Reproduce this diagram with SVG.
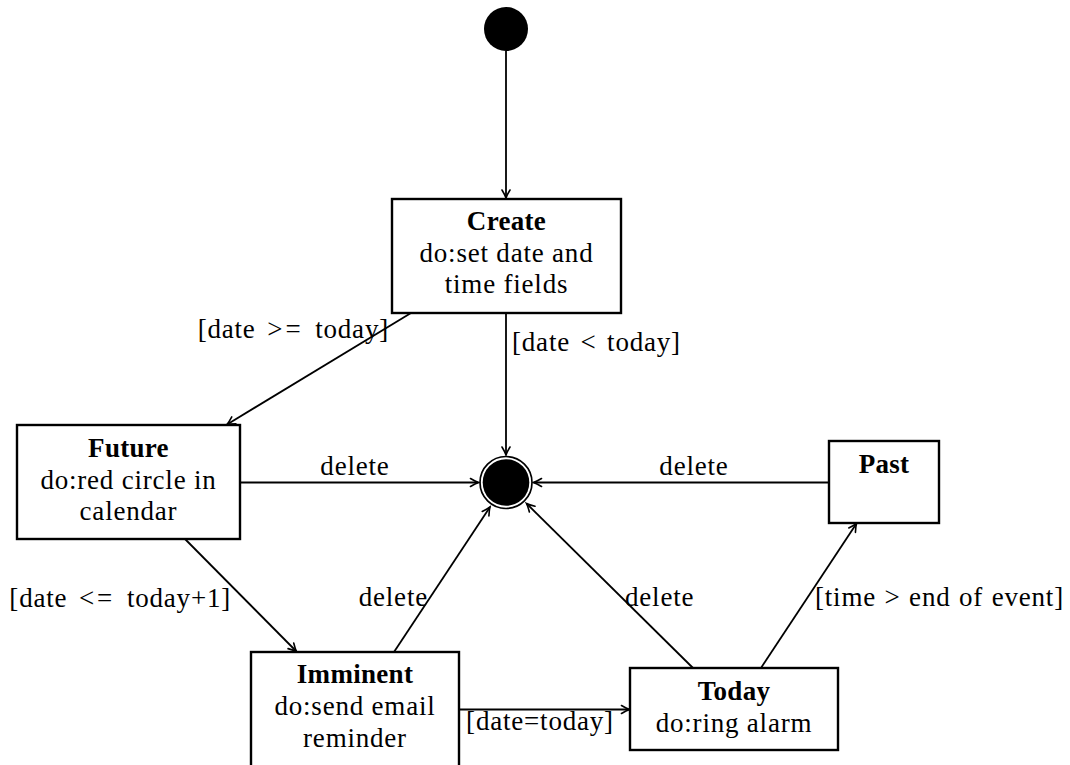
<svg xmlns="http://www.w3.org/2000/svg" width="1070" height="765" viewBox="0 0 1070 765">
<defs>
<style>
.box{fill:#fff;stroke:#000;stroke-width:2.4}
.t{font-family:'Liberation Serif','Times New Roman',serif;font-size:27px;fill:#000;letter-spacing:0.8px}
.b{font-weight:bold;letter-spacing:0.3px}
.m{text-anchor:middle}
.e{text-anchor:end}
.op{letter-spacing:3px}
.edge{stroke:#000;stroke-width:1.8;fill:none;marker-end:url(#arr)}
</style>
<marker id="arr" viewBox="-10 -6 12 12" refX="0" refY="0" markerWidth="12" markerHeight="12" markerUnits="userSpaceOnUse" orient="auto">
<path d="M-8,-4 Q-3,-1 0,0 Q-3,1 -8,4" fill="none" stroke="#000" stroke-width="1.6" stroke-linecap="round"/>
</marker>
</defs>
<rect width="1070" height="765" fill="#fff"/>

<g id="connectors">
<line class="edge" x1="506" y1="51" x2="506" y2="198"/>
<line class="edge" x1="506" y1="313" x2="506" y2="455"/>
<line class="edge" x1="411" y1="313" x2="227" y2="424.5"/>
<line class="edge" x1="240" y1="482.5" x2="478.5" y2="482.5"/>
<line class="edge" x1="829" y1="482.5" x2="533.5" y2="482.5"/>
<line class="edge" x1="185" y1="539" x2="296.5" y2="651.5"/>
<line class="edge" x1="394" y1="652" x2="490" y2="507"/>
<line class="edge" x1="693" y1="668" x2="526.5" y2="503.5"/>
<line class="edge" x1="761" y1="668" x2="856.5" y2="523.5"/>
<line class="edge" x1="459" y1="709.5" x2="629.5" y2="709.5"/>
<text class="t e" x="389" y="338" word-spacing="4">[date <tspan class="op">&gt;=</tspan> today]</text>
<text class="t" x="512" y="351" word-spacing="3">[date &lt; today]</text>
<text class="t m" x="355" y="475">delete</text>
<text class="t m" x="694" y="475">delete</text>
<text class="t e" x="231" y="607" word-spacing="4">[date <tspan class="op">&lt;=</tspan> today+1]</text>
<text class="t e" x="428" y="606">delete</text>
<text class="t" x="625" y="606">delete</text>
<text class="t" x="815" y="606" word-spacing="1">[time &gt; end of event]</text>
<text class="t m" x="540" y="730" letter-spacing="1.5">[date=today]</text>
</g>

<g id="initial">
<circle cx="506" cy="29" r="22" fill="#000"/>
</g>

<g id="final">
<circle cx="506" cy="482.5" r="26" fill="none" stroke="#000" stroke-width="1.7"/>
<circle cx="506" cy="482.5" r="23.3" fill="#000"/>
</g>

<g id="create">
<rect class="box" x="392" y="199" width="229" height="114"/>
<text class="t m b" x="506.5" y="230">Create</text>
<text class="t m" x="506.5" y="262">do:set date and</text>
<text class="t m" x="506.5" y="293">time fields</text>
</g>

<g id="future">
<rect class="box" x="17" y="425" width="223" height="114"/>
<text class="t m b" x="128.5" y="457">Future</text>
<text class="t m" x="128.5" y="489">do:red circle in</text>
<text class="t m" x="128.5" y="520">calendar</text>
</g>

<g id="past">
<rect class="box" x="829" y="441" width="110" height="82"/>
<text class="t m b" x="884" y="473">Past</text>
</g>

<g id="imminent">
<rect class="box" x="251" y="652" width="208" height="125"/>
<text class="t m b" x="355" y="683">Imminent</text>
<text class="t m" x="355" y="715">do:send email</text>
<text class="t m" x="355" y="747">reminder</text>
</g>

<g id="today">
<rect class="box" x="630" y="668" width="208" height="82"/>
<text class="t m b" x="734" y="700">Today</text>
<text class="t m" x="734" y="732">do:ring alarm</text>
</g>
</svg>
